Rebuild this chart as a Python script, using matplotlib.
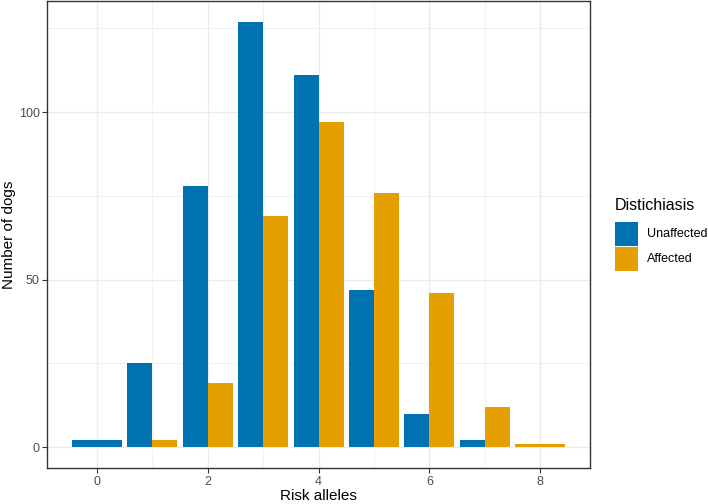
import numpy as np
import matplotlib.pyplot as plt

plt.rcParams['font.family'] = ['Liberation Sans', 'DejaVu Sans']

risk_alleles = [0, 1, 2, 3, 4, 5, 6, 7, 8]
unaffected = [2, 25, 78, 127, 111, 47, 10, 2, 0]
affected = [0, 2, 19, 69, 97, 76, 46, 12, 1]
groups = ['Unaffected', 'Affected']
colors = ['#0072B2', '#E69F00']

fig = plt.figure(figsize=(7.08, 5.04), dpi=100)
ax = fig.add_axes([0.0667, 0.0708, 0.7665, 0.9282])

width = 0.9
for i, x in enumerate(risk_alleles):
    vals = [unaffected[i], affected[i]]
    present = [k for k in range(2) if vals[k] > 0]
    n = len(present)
    w = width / n
    for j, k in enumerate(present):
        left = x - width / 2 + j * w
        ax.bar(left, vals[k], width=w, align='edge', color=colors[k],
               edgecolor='none', zorder=3)

ax.set_xlim(-0.895, 8.895)
ax.set_ylim(-6.35, 133.35)
ax.set_xticks([0, 2, 4, 6, 8])
ax.set_xticks([1, 3, 5, 7], minor=True)
ax.set_yticks([0, 50, 100])
ax.set_yticks([25, 75, 125], minor=True)
ax.grid(which='major', color='#EBEBEB', linewidth=1.0, zorder=0)
ax.grid(which='minor', color='#EBEBEB', linewidth=0.5, zorder=0)
ax.tick_params(which='major', length=3.5, width=0.8, color='#333333',
               labelcolor='#4D4D4D', labelsize=9, pad=2)
ax.tick_params(which='minor', length=0)
for s in ax.spines.values():
    s.set_color('#333333')
    s.set_linewidth(1.0)

ax.set_xlabel('Risk alleles', fontsize=11, labelpad=1)
ax.set_ylabel('Number of dogs', fontsize=11, labelpad=2)

# legend
fig.text(615 / 708, 1 - 206 / 504, 'Distichiasis', fontsize=11.5, va='center')
for k, g in enumerate(groups):
    top = 222 + k * 25
    y0 = 1 - (top + 24) / 504
    fig.patches.append(plt.Rectangle((615 / 708, y0), 23 / 708, 24 / 504,
                                     transform=fig.transFigure,
                                     facecolor=colors[k], edgecolor='none'))
    fig.text(647 / 708, y0 + 12 / 504, g, fontsize=9, va='center')

fig.savefig('out.png', dpi=100)
